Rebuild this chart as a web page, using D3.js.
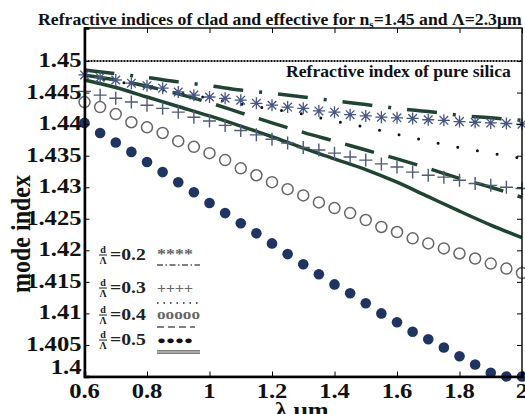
<!DOCTYPE html>
<html>
<head>
<meta charset="utf-8">
<script src="https://cdn.jsdelivr.net/npm/d3@7"></script>
<style>
    body { margin: 0; background: #fff; }
    svg { display: block; }
    text { font-family: "Liberation Serif", "DejaVu Serif", serif; font-weight: bold; }
</style>
</head>
<body>
<svg id="chart"></svg>
<script>
// wavelengths of the marker points and of the clad curves (um)
var lambdaPts = [0.6, 0.65, 0.7, 0.75, 0.8, 0.85, 0.9, 0.95, 1.0, 1.05, 1.1, 1.15, 1.2, 1.25, 1.3,
                 1.35, 1.4, 1.45, 1.5, 1.55, 1.6, 1.65, 1.7, 1.75, 1.8, 1.85, 1.9, 1.95, 2.0];
var lambdaLine = [0.6, 0.7, 0.8, 0.9, 1.0, 1.1, 1.2, 1.3, 1.4, 1.5, 1.6, 1.7, 1.8, 1.9, 2.0];

// effective index (markers)
var neff02 = [1.4478, 1.4474, 1.4470, 1.4465, 1.4461, 1.4457, 1.4451, 1.4446, 1.4443, 1.4441, 1.4438, 1.4433,
              1.4430, 1.4427, 1.4425, 1.4421, 1.4419, 1.4415, 1.4413, 1.4411, 1.4410, 1.4409, 1.4407, 1.4406,
              1.4404, 1.4403, 1.4402, 1.4401, 1.4400];
var neff03 = [1.4452, 1.4446, 1.4441, 1.4435, 1.4430, 1.4425, 1.4419, 1.4411, 1.4405, 1.4398, 1.4390, 1.4383,
              1.4376, 1.4370, 1.4363, 1.4359, 1.4354, 1.4348, 1.4343, 1.4337, 1.4332, 1.4324, 1.4319, 1.4316,
              1.4311, 1.4306, 1.4303, 1.4300, 1.4298];
var neff04 = [1.4435, 1.4427, 1.4416, 1.4403, 1.4395, 1.4386, 1.4373, 1.4364, 1.4354, 1.4343, 1.4330, 1.4319,
              1.4308, 1.4297, 1.4287, 1.4276, 1.4267, 1.4259, 1.4248, 1.4237, 1.4229, 1.4219, 1.4211, 1.4203,
              1.4195, 1.4187, 1.4179, 1.4171, 1.4164];
var neff05 = [1.4402, 1.4386, 1.4371, 1.4356, 1.4340, 1.4324, 1.4308, 1.4292, 1.4275, 1.4259, 1.4243, 1.4227,
              1.4211, 1.4194, 1.4178, 1.4162, 1.4146, 1.4132, 1.4116, 1.4100, 1.4086, 1.4071, 1.4059, 1.4046,
              1.4032, 1.4019, 1.4006, 1.4000, 1.4000];

// clad index (lines)
var nclad02 = [1.4486, 1.4480, 1.4474, 1.4467, 1.4461, 1.4454, 1.4449, 1.4443, 1.4437, 1.4431, 1.4425, 1.4420, 1.4414, 1.4410, 1.4406];
var nclad03 = [1.4476, 1.4468, 1.4459, 1.4450, 1.4441, 1.4432, 1.4424, 1.4416, 1.4405, 1.4395, 1.4384, 1.4373, 1.4363, 1.4354, 1.4346];
var nclad04 = [1.4478, 1.4470, 1.4460, 1.4448, 1.4434, 1.4418, 1.4402, 1.4387, 1.4373, 1.4359, 1.4345, 1.4330, 1.4314, 1.4300, 1.4284];
var nclad05 = [1.4470, 1.4458, 1.4443, 1.4428, 1.4413, 1.4397, 1.4380, 1.4362, 1.4345, 1.4328, 1.4308, 1.4285, 1.4262, 1.4240, 1.4220];

var nSilica = 1.45;

var xTicks = [0.6, 0.8, 1, 1.2, 1.4, 1.6, 1.8, 2];
var yTicks = [1.4, 1.405, 1.41, 1.415, 1.42, 1.425, 1.43, 1.435, 1.44, 1.445, 1.45];
var legendRatios = ["0.2", "0.3", "0.4", "0.5"];
var legendMarks = ["****", "++++", "ooooo", "\u25CF\u25CF\u25CF\u25CF"];

var width = 525,
    height = 414;
var margin = {left: 84.5, right: 3, top: 28, bottom: 37.5};
var stretch = 1.23; // the source picture is wider than tall text would be

var green = "#1f4532",
    navy = "#1f3461";

var svg = d3.select("#chart")
    .attr("width", width)
    .attr("height", height);

var x = d3.scaleLinear().domain([0.6, 2]).range([margin.left, width - margin.right]);
var y = d3.scaleLinear().domain([1.4, 1.45524]).range([height - margin.bottom, margin.top]);

svg.append("clipPath").attr("id", "clip")
    .append("rect")
    .attr("x", margin.left).attr("y", margin.top)
    .attr("width", width - margin.left - margin.right)
    .attr("height", height - margin.top - margin.bottom);

// stretch a text horizontally so it fills a given width starting at x0
function fitText(t, x0, y0, w) {
    var bb = t.node().getBBox();
    t.attr("x", 0).attr("y", 0)
        .attr("transform", "translate(" + x0 + "," + y0 + ") scale(" + (w / bb.width) + ",1)");
}

// silica line
svg.append("line")
    .attr("x1", x(0.6)).attr("x2", x(2))
    .attr("y1", y(nSilica)).attr("y2", y(nSilica))
    .attr("stroke", "#111")
    .attr("stroke-width", 2)
    .attr("stroke-dasharray", "2 1");

// clad curves
var line = d3.line()
    .x(function(d) { return x(d[0]); })
    .y(function(d) { return y(d[1]); })
    .curve(d3.curveMonotoneX);

var cladSeries = [
    {vals: nclad02, color: green, width: 3.5, dash: "30 16 3 16", cap: "butt"},
    {vals: nclad03, color: "#111", width: 3, dash: "0 20", cap: "round"},
    {vals: nclad04, color: green, width: 3.5, dash: "30 15", cap: "butt"},
    {vals: nclad05, color: green, width: 3.5, dash: null, cap: "butt"}
];

var lines = svg.append("g").attr("clip-path", "url(#clip)");
cladSeries.forEach(function(s) {
    lines.append("path")
        .datum(lambdaLine.map(function(l, i) { return [l, s.vals[i]]; }))
        .attr("d", line)
        .attr("fill", "none")
        .attr("stroke", s.color)
        .attr("stroke-width", s.width)
        .attr("stroke-linecap", s.cap)
        .attr("stroke-dasharray", s.dash);
});

// markers
var marks = svg.append("g");

marks.selectAll(".ast")
    .data(lambdaPts.map(function(l, i) { return [l, neff02[i]]; }))
    .enter().append("path")
    .attr("transform", function(d) { return "translate(" + x(d[0]) + "," + y(d[1]) + ")"; })
    .attr("d", "M-6,0H6M0,-6V6M-4.3,-4.3L4.3,4.3M-4.3,4.3L4.3,-4.3")
    .attr("stroke", "#465685")
    .attr("stroke-width", 1.3)
    .attr("fill", "none");

marks.selectAll(".plus")
    .data(lambdaPts.map(function(l, i) { return [l, neff03[i]]; }))
    .enter().append("path")
    .attr("transform", function(d) { return "translate(" + x(d[0]) + "," + y(d[1]) + ")"; })
    .attr("d", "M-6.5,0H6.5M0,-6.5V6.5")
    .attr("stroke", "#4f5a74")
    .attr("stroke-width", 1.4)
    .attr("fill", "none");

marks.selectAll(".ring")
    .data(lambdaPts.map(function(l, i) { return [l, neff04[i]]; }))
    .enter().append("circle")
    .attr("cx", function(d) { return x(d[0]); })
    .attr("cy", function(d) { return y(d[1]); })
    .attr("r", 5.5)
    .attr("fill", "none")
    .attr("stroke", "#666")
    .attr("stroke-width", 1.5);

marks.selectAll(".dot")
    .data(lambdaPts.map(function(l, i) { return [l, neff05[i]]; }))
    .enter().append("circle")
    .attr("cx", function(d) { return x(d[0]); })
    .attr("cy", function(d) { return y(d[1]); })
    .attr("r", 5.3)
    .attr("fill", navy);

// box and ticks
var frame = svg.append("g");
frame.append("rect")
    .attr("x", x(0.6)).attr("y", y.range()[1])
    .attr("width", x(2) - x(0.6))
    .attr("height", y.range()[0] - y.range()[1])
    .attr("fill", "none")
    .attr("stroke", "#111")
    .attr("stroke-width", 1.5);

frame.append("g")
    .attr("transform", "translate(0," + y.range()[0] + ")")
    .call(d3.axisBottom(x).tickValues(xTicks).tickSize(-5).tickFormat(""))
    .call(function(g) { g.select(".domain").attr("stroke-width", 2.5); });
frame.append("g")
    .attr("transform", "translate(0," + y.range()[1] + ")")
    .call(d3.axisTop(x).tickValues(xTicks).tickSize(-5).tickFormat(""))
    .call(function(g) { g.select(".domain").remove(); });
frame.append("g")
    .attr("transform", "translate(" + x(0.6) + ",0)")
    .call(d3.axisLeft(y).tickValues(yTicks).tickSize(-5).tickFormat(""))
    .call(function(g) { g.select(".domain").attr("stroke-width", 2.5); });
frame.append("g")
    .attr("transform", "translate(" + x(2) + ",0)")
    .call(d3.axisRight(y).tickValues(yTicks).tickSize(-5).tickFormat(""))
    .call(function(g) { g.select(".domain").remove(); });

// tick labels
svg.append("g").selectAll("text")
    .data(xTicks)
    .enter().append("text")
    .attr("transform", function(d) { return "translate(" + x(d) + "," + (y.range()[0] + 21) + ") scale(" + stretch + ",1)"; })
    .attr("text-anchor", "middle")
    .attr("font-size", 20)
    .attr("fill", "#111")
    .text(function(d) { return d3.format("~g")(d); });

svg.append("g").selectAll("text")
    .data(yTicks)
    .enter().append("text")
    .attr("transform", function(d) {
        var yy = y(d) + 6 - (d === 1.4 ? 9 : 0);
        return "translate(" + (x(0.6) - 3) + "," + yy + ") scale(" + stretch + ",1)";
    })
    .attr("text-anchor", "end")
    .attr("font-size", 20)
    .attr("fill", "#111")
    .text(function(d) { return d3.format("~g")(d); });

// titles
var title = svg.append("text")
    .attr("font-size", 16)
    .attr("fill", "#111");
title.append("tspan").text("Refractive indices of clad and effective for n");
title.append("tspan").attr("font-size", 10).attr("dy", 3).text("s");
title.append("tspan").attr("dy", -3).text("=1.45 and \u039B=2.3\u03BCm");
fitText(title, 38, 25, 485);

fitText(svg.append("text")
    .attr("font-size", 16)
    .attr("fill", "#111")
    .text("Refractive index of pure silica"), 286, 77, 225);

var xl = svg.append("text")
    .attr("font-size", 20)
    .attr("fill", "#111")
    .text("\u03BB \u03BCm");
fitText(xl, 275, 417, 54);

var yl = svg.append("text")
    .attr("font-size", 22)
    .attr("text-anchor", "middle")
    .attr("fill", "#111")
    .text("mode index");
var ylw = yl.node().getBBox().width;
yl.attr("transform", "translate(30,234) rotate(-90) scale(" + (118 / ylw) + "," + stretch + ")");

// legend: ratio, marker glyphs, then a short sample of the clad line
var legendY = [255, 288, 315, 340];
var legendLineY = [265, 303, 327, 352];
var legendDash = ["6 2.5 1.5 2.5", "1.5 5", "7 4", null];
var legend = svg.append("g");
legendRatios.forEach(function(r, i) {
    var yc = legendY[i];
    var g = legend.append("g");
    g.append("text").attr("x", 103).attr("y", yc - 2).attr("text-anchor", "middle")
        .attr("font-size", 10).attr("fill", "#222").text("d");
    g.append("line").attr("x1", 99).attr("x2", 107).attr("y1", yc).attr("y2", yc)
        .attr("stroke", "#222").attr("stroke-width", 1);
    g.append("text").attr("x", 103).attr("y", yc + 9).attr("text-anchor", "middle")
        .attr("font-size", 10).attr("fill", "#222").text("\u039B");
    g.append("text")
        .attr("transform", "translate(110," + (yc + 5) + ") scale(" + stretch + ",1)")
        .attr("font-size", 16).attr("fill", "#222").text("=" + r);
    var m = g.append("text")
        .attr("font-size", i === 3 ? 11 : 14)
        .attr("fill", i === 3 ? "#111" : "#666")
        .text(legendMarks[i]);
    fitText(m, 157, yc + (i === 1 ? 5 : 4), i === 2 ? 43 : 36);

    var ly = legendLineY[i];
    if (i === 3) {
        [-1.2, 1.2].forEach(function(o) {
            g.append("line").attr("x1", 157).attr("x2", 200)
                .attr("y1", ly + o).attr("y2", ly + o)
                .attr("stroke", "#555").attr("stroke-width", 1.2);
        });
    } else {
        g.append("line").attr("x1", 157).attr("x2", i === 2 ? 195 : 200)
            .attr("y1", ly).attr("y2", ly)
            .attr("stroke", "#555")
            .attr("stroke-width", i === 1 ? 2 : 1.6)
            .attr("stroke-dasharray", legendDash[i]);
    }
});
</script>
</body>
</html>
